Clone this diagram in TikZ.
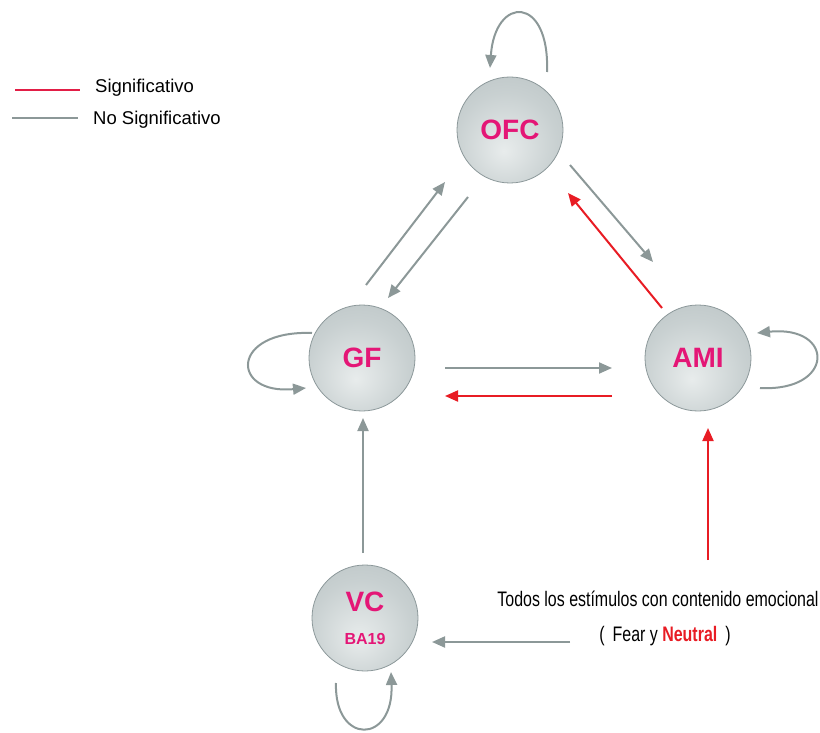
\documentclass[tikz,border=0pt]{standalone}
\usepackage{fontspec}
\setmainfont{Liberation Sans}
\newfontfamily\narrowsans[FakeStretch=0.76]{Liberation Sans}
\usetikzlibrary{arrows.meta,calc}

\definecolor{linkgray}{RGB}{140,152,152}
\definecolor{sigred}{RGB}{232,28,36}
\definecolor{legendred}{RGB}{226,30,70}
\definecolor{labelpink}{RGB}{228,22,118}
\definecolor{ballrim}{RGB}{140,152,154}
\definecolor{ballmid}{RGB}{190,199,200}
\definecolor{balllight}{RGB}{232,236,236}

% soft grey sphere, lighter towards the lower middle
\pgfdeclareradialshading{sphereshade}{\pgfpoint{-3bp}{-10bp}}{%
  color(0bp)=(balllight); color(24bp)=(ballmid!75!balllight);
  color(44bp)=(ballmid!85!ballrim); color(52bp)=(ballrim); color(70bp)=(ballrim)}

\tikzset{
  sphere/.style={circle, minimum size=106pt, inner sep=0pt, shading=sphereshade,
    draw=ballrim, line width=0.8pt, text=labelpink,
    font=\bfseries\fontsize{28}{30}\selectfont},
  link/.style={draw=linkgray, line width=2pt, -{Triangle[length=13pt,width=11pt]}},
  siglink/.style={link, draw=sigred},
  legendtext/.style={anchor=west, inner sep=0pt, font=\fontsize{18.5}{20}\selectfont},
  stimtext/.style={anchor=base, inner sep=0pt, font=\narrowsans\fontsize{21}{24}\selectfont},
}

\begin{document}
\begin{tikzpicture}[x=1pt, y=-1pt]
\useasboundingbox (0,0) rectangle (820,733);

% legend
\coordinate (lgA1) at (15,90);
\coordinate (lgA2) at (80,90);
\coordinate (lgB1) at (12,118);
\coordinate (lgB2) at (78,118);
\draw[legendred, line width=2pt] (lgA1) -- (lgA2);
\draw[linkgray, line width=2pt] (lgB1) -- (lgB2);
\node[legendtext] (lgsig) at (95,88) {Significativo};
\node[legendtext] (lgnosig) at (93,120) {No Significativo};

% regions
\node[sphere] (ofc) at (510,130) {OFC};
\node[sphere] (gf)  at (362,358) {GF};
\node[sphere] (ami) at (698,358) {AMI};
\node[sphere, align=center] (vc) at (365,618)
  {VC\\[3pt]{\fontsize{16}{18}\selectfont BA19}};

% stimulus label
\node[stimtext] (stimA) at (658,606) {Todos los estímulos con contenido emocional};
\node[stimtext] (stimB) at (665,641) {(\, Fear y {\bfseries\color{sigred}Neutral}\, )};
\coordinate (stimup) at (708,560);
\coordinate (stimleft) at (570,642);

% connections between regions
\draw[link]    ($(gf)+(4,-73)$)   -- ($(ofc)+(-65,52)$);
\draw[link]    ($(ofc)+(-42,67)$) -- ($(gf)+(26,-60)$);
\draw[link]    ($(ofc)+(60,35)$)  -- ($(ami)+(-45,-96)$);
\draw[siglink] ($(ami)+(-36,-50)$) -- ($(ofc)+(58,63)$);
\draw[link]    ($(gf)+(83,10)$)   -- ($(ami)+(-86,10)$);
\draw[siglink] ($(ami)+(-86,38)$) -- ($(gf)+(83,38)$);
\draw[link]    ($(vc)+(-2,-65)$)  -- ($(gf)+(1,60)$);
\draw[siglink] (stimup) -- ($(ami)+(10,70)$);
\draw[link]    (stimleft) -- ($(vc)+(67,24)$);

% self loops
\draw[link] ($(ofc)+(37,-58)$) .. controls ($(ofc)+(40,-135)$) and ($(ofc)+(-15,-135)$) .. ($(ofc)+(-20,-62)$);
\draw[link] ($(gf)+(-50,-25)$) .. controls ($(gf)+(-132,-28)$) and ($(gf)+(-132,37)$) .. ($(gf)+(-56,30)$);
\draw[link] ($(ami)+(62,30)$) .. controls ($(ami)+(137,34)$) and ($(ami)+(137,-33)$) .. ($(ami)+(59,-25)$);
\draw[link] ($(vc)+(-29,65)$) .. controls ($(vc)+(-31,127)$) and ($(vc)+(29,127)$) .. ($(vc)+(26,54)$);
\end{tikzpicture}
\end{document}
